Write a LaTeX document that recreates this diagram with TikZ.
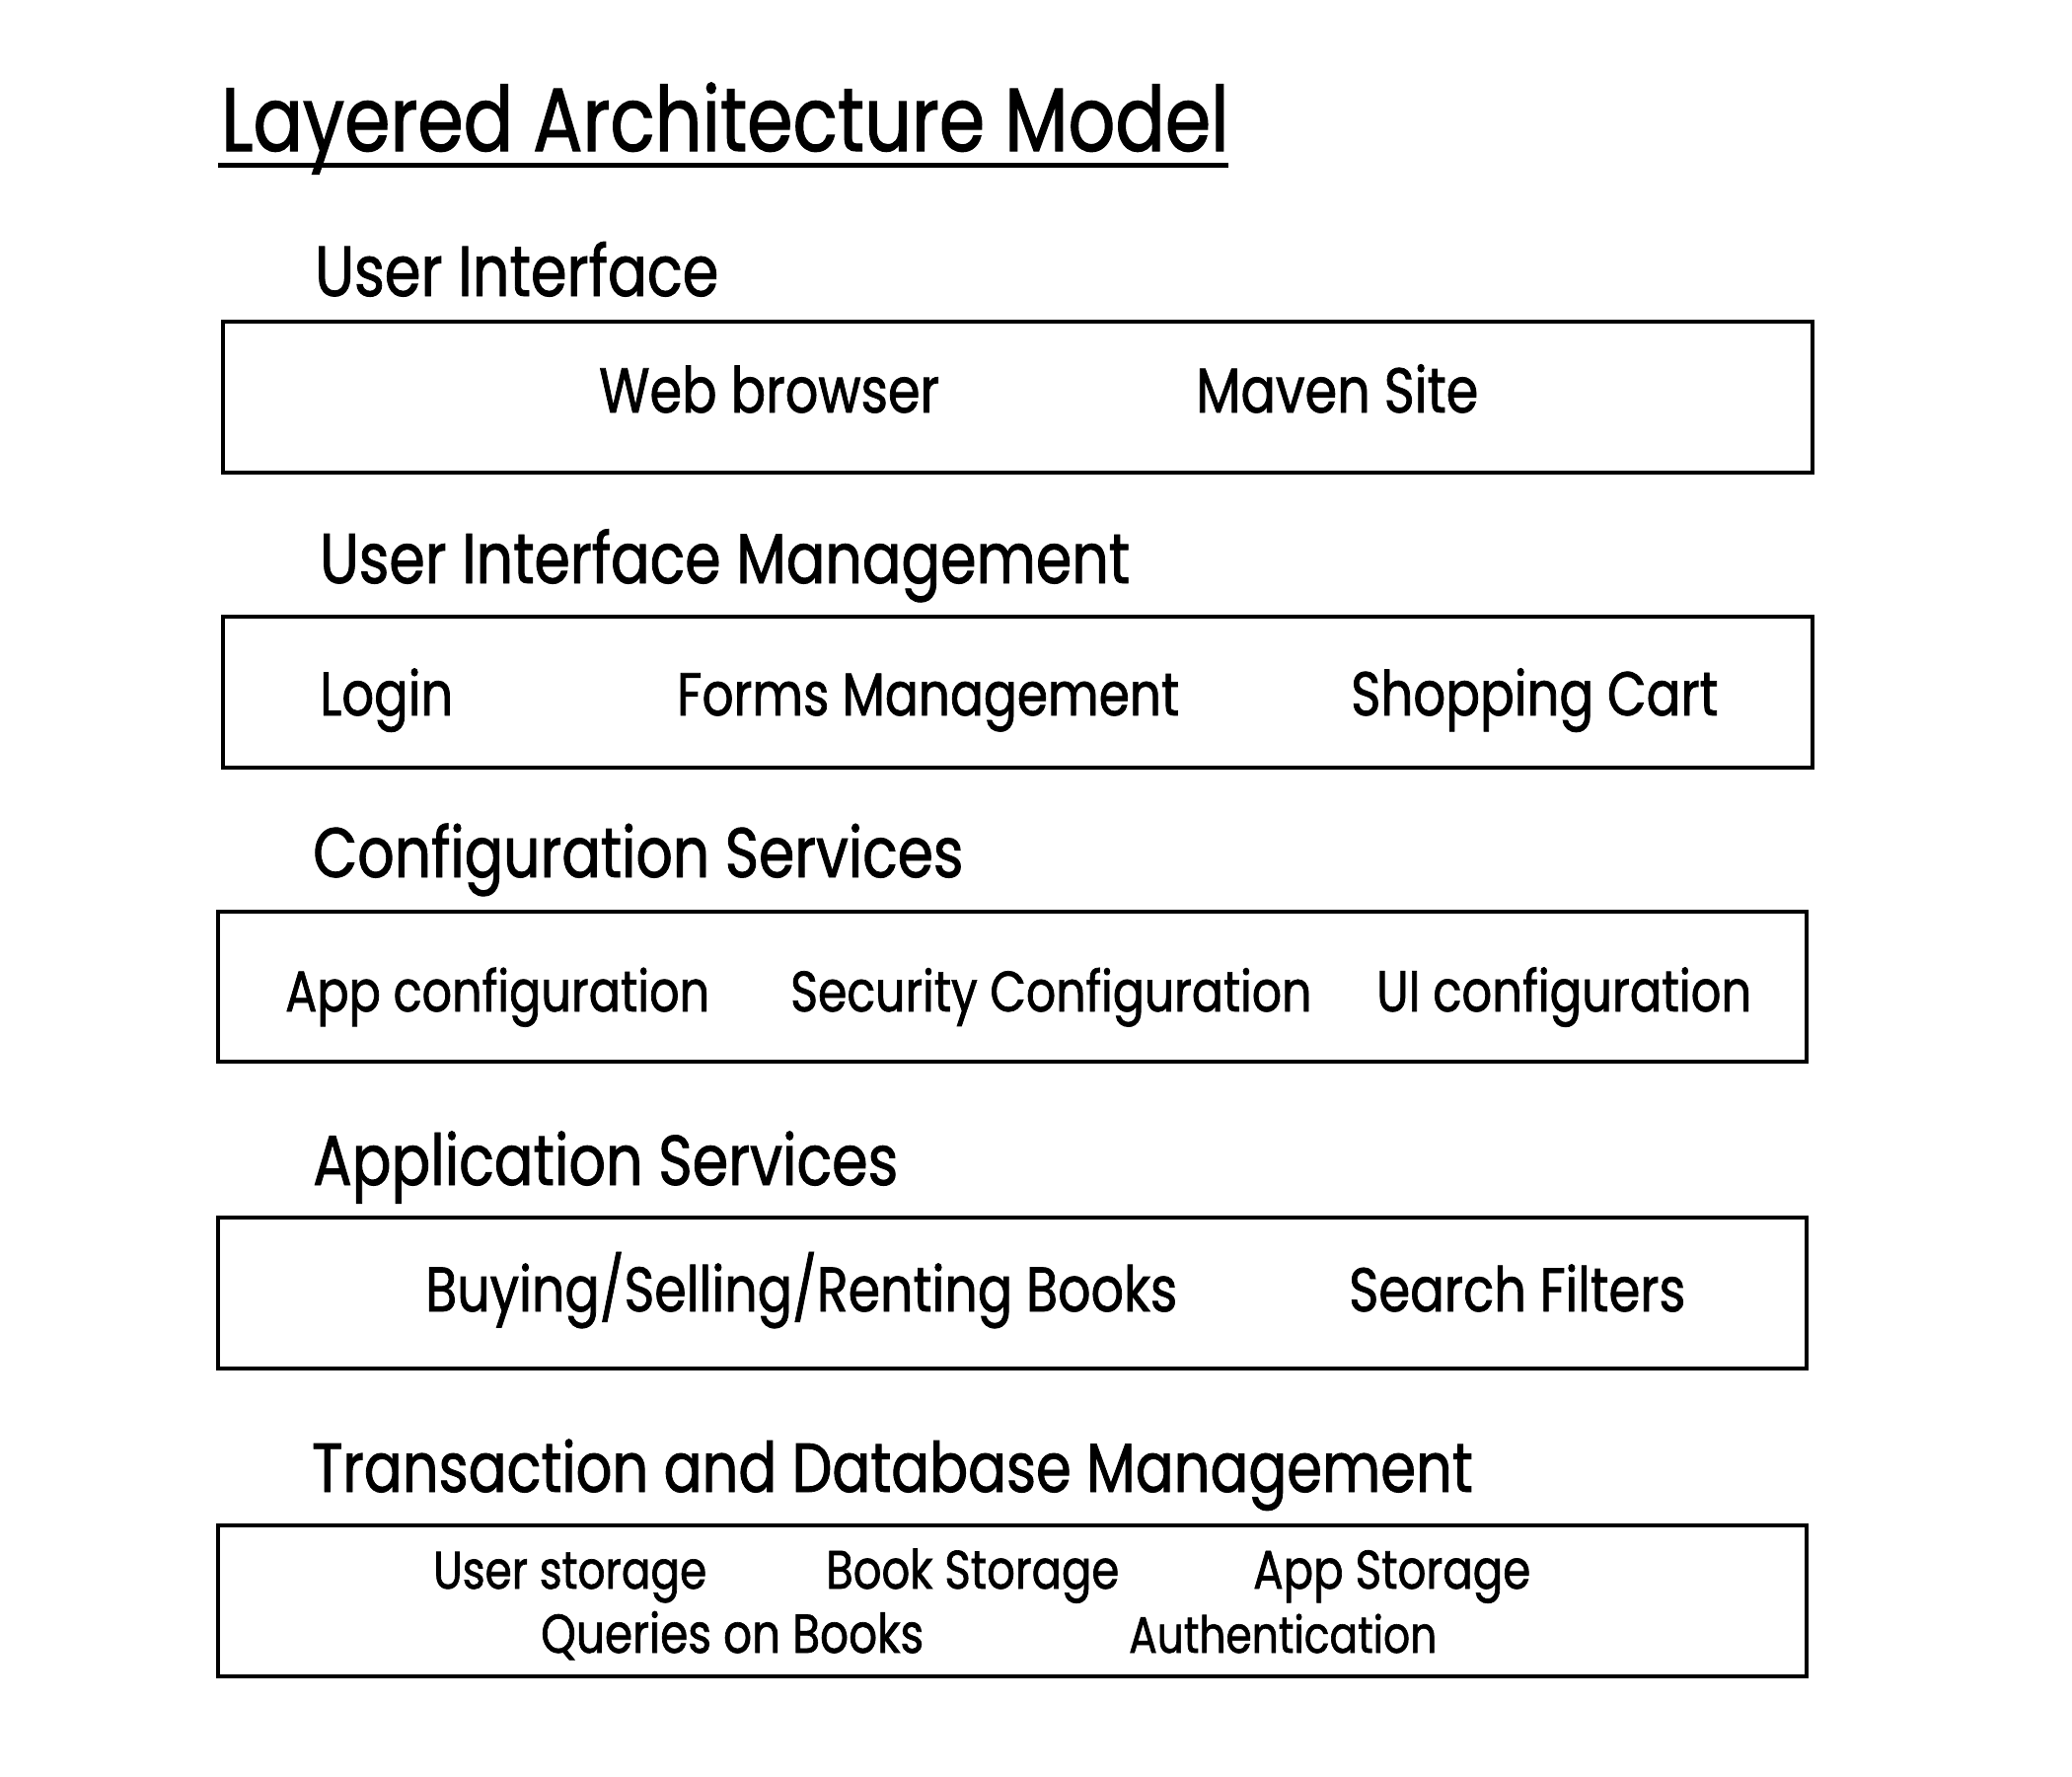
\documentclass[tikz,border=0pt]{standalone}
\usepackage{fontspec}
\setmainfont[FakeStretch=0.82,FakeBold=1.2]{Poppins}
\newcommand\fw[2]{\resizebox{#1pt}{!}{#2}}
\begin{document}
\begin{tikzpicture}[x=1pt,y=-1pt,
  layer/.style={draw=black,line width=4pt,rectangle,anchor=north west,inner sep=0pt},
  txt/.style={anchor=base west,inner sep=0pt,text=black}]
\useasboundingbox[fill=white] (0,0) rectangle (2100,1800);
% title
\node[txt] (title) at (224,153) {\fw{1021}{Layered Architecture Model}};
\draw[line width=5pt] (221,167) -- (1245,167);
% headings
\node[txt] (h1) at (319,300) {\fw{409}{User Interface}};
\node[txt] (h2) at (324,591) {\fw{821}{User Interface Management}};
\node[txt] (h3) at (317,889) {\fw{659}{Configuration Services}};
\node[txt] (h4) at (317,1201) {\fw{593}{Application Services}};
\node[txt] (h5) at (316,1512) {\fw{1176}{Transaction and Database Management}};
% boxes
\node[layer,minimum width=1611pt,minimum height=153pt] (b1) at (223.5,323.5) {};
\node[layer,minimum width=1611pt,minimum height=153pt] (b2) at (223.5,622.5) {};
\node[layer,minimum width=1610pt,minimum height=152pt] (b3) at (218.5,921.5) {};
\node[layer,minimum width=1610pt,minimum height=153pt] (b4) at (218.5,1231.5) {};
\node[layer,minimum width=1610pt,minimum height=153pt] (b5) at (218.5,1543.5) {};
% items
\node[txt] (i11) at (607,418) {\fw{345}{Web browser}};
\node[txt] (i12) at (1212,418) {\fw{286}{Maven Site}};
\node[txt] (i21) at (324,725) {\fw{135}{Login}};
\node[txt] (i22) at (686,725) {\fw{509}{Forms Management}};
\node[txt] (i23) at (1369,725) {\fw{372}{Shopping Cart}};
\node[txt] (i31) at (289,1025) {\fw{430}{App configuration}};
\node[txt] (i32) at (801,1025) {\fw{528}{Security Configuration}};
\node[txt] (i33) at (1395,1025) {\fw{380}{UI configuration}};
\node[txt] (i41) at (431,1329) {\fw{762}{Buying/Selling/Renting Books}};
\node[txt] (i42) at (1367,1329) {\fw{341}{Search Filters}};
\node[txt] (i51) at (439,1610) {\fw{277}{User storage}};
\node[txt] (i52) at (837,1610) {\fw{297}{Book Storage}};
\node[txt] (i53) at (1270,1610) {\fw{281}{App Storage}};
\node[txt] (i54) at (548,1675) {\fw{388}{Queries on Books}};
\node[txt] (i55) at (1144,1675) {\fw{312}{Authentication}};
\end{tikzpicture}
\end{document}
